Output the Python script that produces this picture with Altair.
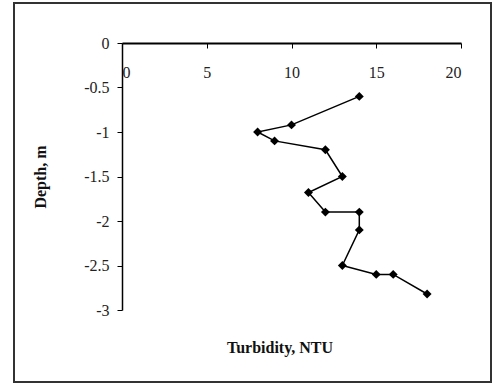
import altair as alt
import pandas as pd

turbidity = [14, 10, 8, 9, 12, 13, 11, 12, 14, 14, 13, 15, 16, 18]
depth = [-0.6, -0.92, -1.0, -1.1, -1.2, -1.5, -1.68, -1.9, -1.9, -2.1, -2.5, -2.6, -2.6, -2.82]
x_title = ["Turbidity, NTU"]

df = pd.DataFrame({"t": turbidity, "d": depth, "order": list(range(len(turbidity)))})

W, H = 339, 267
FONT = "Liberation Serif"

x = alt.X("t:Q", scale=alt.Scale(domain=[0, 20], nice=False),
          axis=alt.Axis(orient="bottom", offset=-H, values=[0, 5, 10, 15, 20],
                        title=None, grid=False, domainColor="black", domainWidth=2,
                        tickColor="black", tickSize=5, labelPadding=16,
                        labelFont=FONT, labelFontSize=16, labelColor="#222"))
y = alt.Y("d:Q", scale=alt.Scale(domain=[-3, 0], nice=False),
          axis=alt.Axis(values=[0, -0.5, -1, -1.5, -2, -2.5, -3],
                        labelExpr="toString(datum.value)",
                        title="Depth, m", titleFont=FONT, titleFontSize=16,
                        titleFontWeight="bold", titleColor="#111", titleX=-74,
                        grid=False, domainColor="black", domainWidth=1.5,
                        tickColor="black", tickSize=5, labelPadding=8,
                        labelFont=FONT, labelFontSize=16, labelColor="#222"))

line = alt.Chart(df).mark_line(color="black", strokeWidth=1.5).encode(
    x=x, y=y, order="order:Q")
pts = alt.Chart(df).mark_point(shape="diamond", filled=True, color="black",
                               size=80, opacity=1).encode(x=x, y=y)

border = alt.Chart(df).mark_rect(fill=None, stroke="#333", strokeWidth=1.5).encode(
    x=alt.value(-108), x2=alt.value(369), y=alt.value(-40), y2=alt.value(339))

title = alt.Chart(pd.DataFrame({"label": x_title})).mark_text(
    font=FONT, fontSize=16, fontWeight="bold", color="#111", align="center",
    baseline="middle").encode(text="label:N", x=alt.value(158), y=alt.value(305))

chart = alt.layer(border, line, pts, title).properties(
    width=W, height=H,
    autosize=alt.AutoSizeParams(type="none"),
    padding={"left": 122, "top": 43, "right": 37, "bottom": 75},
).configure_view(stroke=None)

chart.save("out.html", embed_options={"renderer": "svg", "actions": False})
